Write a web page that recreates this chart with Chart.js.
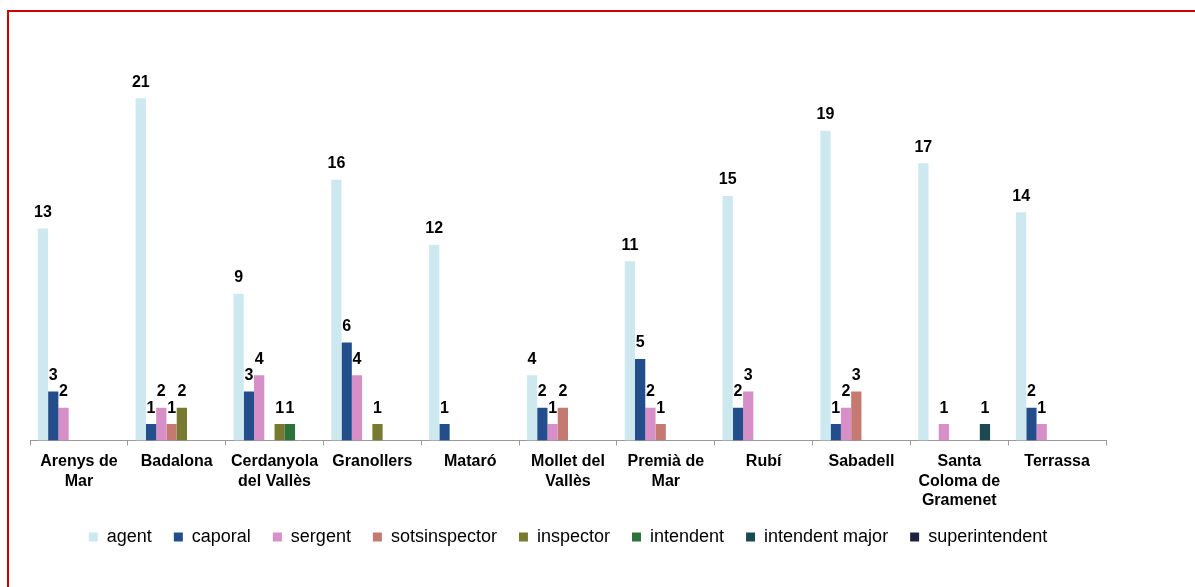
<!DOCTYPE html>
<html>
<head>
<meta charset="utf-8">
<script src="https://cdn.jsdelivr.net/npm/chart.js@4/dist/chart.umd.min.js"></script>
<style>
    html, body { margin: 0; padding: 0; background: #ffffff; overflow: hidden; }
    #wrap { position: relative; width: 1195px; height: 587px; overflow: hidden; }
    #frame {
        position: absolute; left: 7px; top: 10px;
        width: 1260px; height: 660px;
        border: 2px solid #d00000;
    }
    #chart { position: absolute; left: 0; top: 0; }
</style>
</head>
<body>
<div id="wrap">
    <div id="frame"></div>
    <canvas id="chart" width="1195" height="587"></canvas>
</div>
<script>
// Categories (municipalities)
const municipis = [
    ['Arenys de', 'Mar'], 'Badalona', ['Cerdanyola', 'del Vallès'], 'Granollers', 'Mataró',
    ['Mollet del', 'Vallès'], ['Premià de', 'Mar'], 'Rubí', 'Sabadell',
    ['Santa', 'Coloma de', 'Gramenet'], 'Terrassa'
];

// Series values, one per rank
const agent          = [13, 21, 9, 16, 12, 4, 11, 15, 19, 17, 14];
const caporal        = [3, 1, 3, 6, 1, 2, 5, 2, 1, 0, 2];
const sergent        = [2, 2, 4, 4, 0, 1, 2, 3, 2, 1, 1];
const sotsinspector  = [0, 1, 0, 0, 0, 2, 1, 0, 3, 0, 0];
const inspector      = [0, 2, 1, 1, 0, 0, 0, 0, 0, 0, 0];
const intendent      = [0, 0, 1, 0, 0, 0, 0, 0, 0, 0, 0];
const intendentMajor = [0, 0, 0, 0, 0, 0, 0, 0, 0, 1, 0];
const superintendent = [0, 0, 0, 0, 0, 0, 0, 0, 0, 0, 0];

const seriesNames = ['agent', 'caporal', 'sergent', 'sotsinspector', 'inspector', 'intendent', 'intendent major', 'superintendent'];
const seriesData = [agent, caporal, sergent, sotsinspector, inspector, intendent, intendentMajor, superintendent];
const seriesColors = ['#cde9ef', '#234e8b', '#d68fc7', '#c47a70', '#777b31', '#2c733b', '#1a4a50', '#201f3e'];

// Value labels above each non-zero bar
const valueLabels = {
    id: 'valueLabels',
    afterDatasetsDraw(chart) {
        const ctx = chart.ctx;
        ctx.save();
        ctx.font = "bold 16px 'Liberation Sans', Arial, sans-serif";
        ctx.fillStyle = '#000000';
        ctx.textAlign = 'center';
        ctx.textBaseline = 'alphabetic';
        chart.data.datasets.forEach((ds, i) => {
            const meta = chart.getDatasetMeta(i);
            meta.data.forEach((bar, j) => {
                const v = ds.data[j];
                if (!v) return;
                ctx.fillText(String(v), bar.x, bar.y - 11.5);
            });
        });
        ctx.restore();
    }
};

Chart.defaults.font.family = "'Liberation Sans', Arial, sans-serif";
Chart.defaults.color = '#000000';

new Chart(document.getElementById('chart').getContext('2d'), {
    type: 'bar',
    data: {
        labels: municipis,
        datasets: seriesNames.map((name, i) => ({
            label: name,
            data: seriesData[i],
            backgroundColor: seriesColors[i],
            borderWidth: 0,
            categoryPercentage: 0.84,
            barPercentage: 1.0
        }))
    },
    options: {
        responsive: false,
        animation: false,
        layout: { padding: { left: 30, right: 89, top: 33, bottom: 31 } },
        plugins: {
            legend: {
                position: 'bottom',
                labels: {
                    boxWidth: 9,
                    boxHeight: 9,
                    padding: 22,
                    color: '#000000',
                    font: { size: 18 }
                }
            },
            tooltip: { enabled: false }
        },
        scales: {
            y: { display: false, min: 0, max: 25 },
            x: {
                // pull the legend a little closer to the wrapped labels
                afterFit(scale) { scale.height -= 11; },
                border: { display: true, color: '#999999', width: 1 },
                grid: {
                    display: true,
                    offset: true,
                    drawOnChartArea: false,
                    drawTicks: true,
                    tickLength: 5,
                    color: '#999999'
                },
                ticks: {
                    padding: 7,
                    maxRotation: 0,
                    autoSkip: false,
                    color: '#000000',
                    font: { size: 16, weight: 'bold', lineHeight: 1.2 }
                }
            }
        }
    },
    plugins: [valueLabels]
});
</script>
</body>
</html>
